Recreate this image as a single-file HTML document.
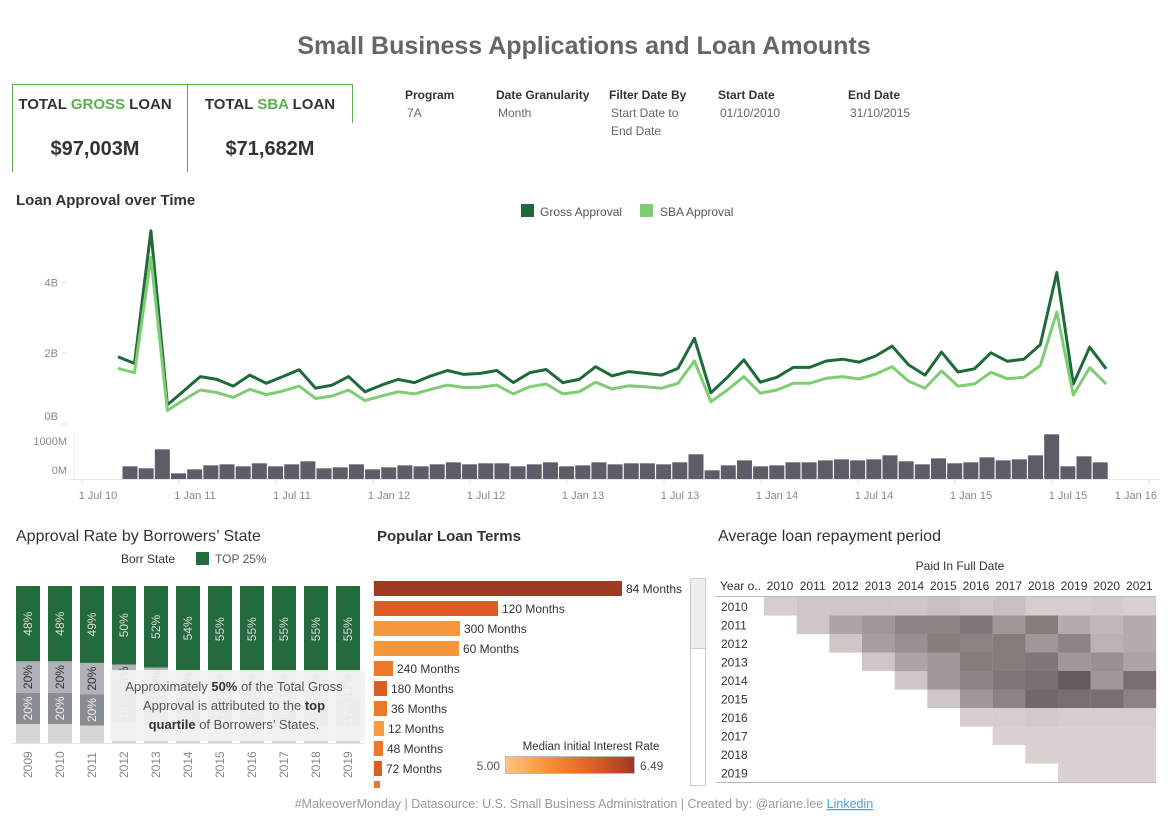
<!DOCTYPE html>
<html><head><meta charset="utf-8">
<style>
html,body{margin:0;padding:0;background:#fff;width:1168px;height:826px;overflow:hidden}
svg{display:block;font-family:"Liberation Sans",sans-serif}
</style></head>
<body>
<svg id="root" width="1168" height="826" viewBox="0 0 1168 826" xmlns="http://www.w3.org/2000/svg">
<text x="584" y="54" text-anchor="middle" font-size="25" font-weight="bold" fill="#666">Small Business Applications and Loan Amounts</text>

<g>
<path d="M12.5 172 V84.5 H187.5 V123" fill="none" stroke="#5cae4f" stroke-width="1"/>
<text x="95" y="109" text-anchor="middle" font-size="15" font-weight="bold" fill="#333">TOTAL <tspan fill="#5cae4f">GROSS</tspan> LOAN</text>
<text x="95" y="155" text-anchor="middle" font-size="20" font-weight="bold" fill="#333">$97,003M</text>
</g>
<g>
<path d="M187.5 172 V84.5 H352.5 V123" fill="none" stroke="#5cae4f" stroke-width="1"/>
<text x="270" y="109" text-anchor="middle" font-size="15" font-weight="bold" fill="#333">TOTAL <tspan fill="#5cae4f">SBA</tspan> LOAN</text>
<text x="270" y="155" text-anchor="middle" font-size="20" font-weight="bold" fill="#333">$71,682M</text>
</g>

<g font-size="12" fill="#333">
<g><text x="405" y="99" font-weight="bold">Program</text><text x="407" y="117" fill="#666">7A</text></g>
<g><text x="496" y="99" font-weight="bold">Date Granularity</text><text x="498" y="117" fill="#666">Month</text></g>
<g><text x="609" y="99" font-weight="bold">Filter Date By</text><text x="611" y="117" fill="#666">Start Date to</text><text x="611" y="135" fill="#666">End Date</text></g>
<g><text x="718" y="99" font-weight="bold">Start Date</text><text x="720" y="117" fill="#666">01/10/2010</text></g>
<g><text x="848" y="99" font-weight="bold">End Date</text><text x="850" y="117" fill="#666">31/10/2015</text></g>
</g>

<text x="16" y="205" font-size="15" font-weight="bold" fill="#333">Loan Approval over Time</text>
<g font-size="12" fill="#555">
<rect x="521" y="204" width="13" height="13" fill="#1f6a3a"/><text x="540" y="216">Gross Approval</text>
<rect x="640" y="204" width="13" height="13" fill="#7fcd72"/><text x="660" y="216">SBA Approval</text>
</g>
<g id="lineChart"></g>
<g id="countBars"></g>

<text x="16" y="541" font-size="16" fill="#333">Approval Rate by Borrowers’ State</text>
<g font-size="12" fill="#333">
<text x="121" y="563">Borr State</text>
<rect x="196" y="552" width="13" height="13" fill="#236b3d"/><text x="215" y="563" fill="#555">TOP 25%</text>
</g>
<g id="stacked"></g>

<text x="377" y="541" font-size="15" font-weight="bold" fill="#333">Popular Loan Terms</text>
<g id="terms"></g>

<text x="718" y="541" font-size="16" fill="#333">Average loan repayment period</text>
<g id="heat"></g>

<text x="584" y="808" text-anchor="middle" font-size="12.5" fill="#999">#MakeoverMonday | Datasource: U.S. Small Business Administration | Created by: @ariane.lee  <tspan fill="#4a9fd5" text-decoration="underline">Linkedin</tspan></text>
</svg>

<script>
const grossB = [1.90,1.71,5.46,0.54,0.94,1.34,1.26,1.07,1.38,1.15,1.34,1.53,1.01,1.10,1.34,0.91,1.10,1.26,1.17,1.36,1.51,1.40,1.43,1.51,1.17,1.45,1.54,1.17,1.26,1.62,1.36,1.48,1.43,1.38,1.57,2.42,0.88,1.32,1.81,1.18,1.32,1.60,1.60,1.78,1.83,1.75,1.92,2.20,1.67,1.38,2.03,1.47,1.56,2.01,1.77,1.83,2.24,4.28,1.13,2.17,1.56];
const sbaB = [1.57,1.45,4.71,0.38,0.68,0.96,0.89,0.75,0.98,0.83,0.93,1.07,0.72,0.79,0.96,0.66,0.79,0.91,0.85,0.98,1.10,1.03,1.04,1.10,0.85,1.05,1.13,0.85,0.91,1.18,0.99,1.08,1.05,1.01,1.15,1.78,0.63,0.96,1.34,0.87,0.96,1.15,1.15,1.29,1.34,1.27,1.41,1.62,1.21,1.01,1.50,1.07,1.13,1.46,1.28,1.32,1.65,3.16,0.82,1.59,1.13];
const countM = [362,305,848,162,276,390,419,362,448,362,419,505,305,333,419,276,333,390,362,419,476,419,448,448,362,419,476,362,390,476,419,448,448,419,476,705,248,390,533,362,390,476,476,533,562,533,562,676,505,419,590,448,476,619,533,562,676,1276,362,648,476];
const yTicksB = [0,2,4];
const yTickLabelsB = ["0B","2B","4B"];
const xTickLabels = ["1 Jul 10","1 Jan 11","1 Jul 11","1 Jan 12","1 Jul 12","1 Jan 13","1 Jul 13","1 Jan 14","1 Jul 14","1 Jan 15","1 Jul 15","1 Jan 16"];
const xTickHalfYears = [0,1,2,3,4,5,6,7,8,9,10,11];
const barTicksM = [0,1000];
const barTickLabels = ["0M","1000M"];

const years = ["2009","2010","2011","2012","2013","2014","2015","2016","2017","2018","2019"];
const top25 = [48,48,49,50,52,54,55,55,55,55,55];
const q2 = [20,20,20,18,18,17,17,17,17,17,17];
const q3 = [20,20,20,19,18,18,17,18,18,18,17];

const terms = ["84 Months","120 Months","300 Months","60 Months","240 Months","180 Months","36 Months","12 Months","48 Months","72 Months","96 Months"];
const termCounts = [248,124,86,85,19,13,13,10,9,8,6];
const termRates = [6.49,6.05,5.45,5.45,5.75,6.05,5.75,5.4,5.75,6.05,5.75];

const heatCols = ["2010","2011","2012","2013","2014","2015","2016","2017","2018","2019","2020","2021"];
const heatRows = ["2010","2011","2012","2013","2014","2015","2016","2017","2018","2019"];
const heatVals = [
 [1,1.5,1.5,1.5,1.5,2,1.5,2,1,1,1.2,0.8],
 [null,1.5,4,5,6.5,6.5,7.5,5,7,3.5,2.5,3.5],
 [null,null,1.5,4.5,5.5,7,6.5,7,5,6.5,3,3.5],
 [null,null,null,1.5,4,5,7,7,7.5,5,5.5,4],
 [null,null,null,null,1.5,5,6.5,7.5,8,9.5,5,8],
 [null,null,null,null,null,1.5,5,6.5,8.5,8,8,6.5],
 [null,null,null,null,null,null,1,1,1.3,1,1,1],
 [null,null,null,null,null,null,null,0.7,0.7,0.7,0.7,0.7],
 [null,null,null,null,null,null,null,null,0.7,0.7,0.7,0.7],
 [null,null,null,null,null,null,null,null,null,0.7,0.7,0.7]
];

const NS="http://www.w3.org/2000/svg";
function mk(tag, attrs, parent){const e=document.createElementNS(NS,tag);for(const k in attrs)e.setAttribute(k,attrs[k]);parent.appendChild(e);return e;}

const lc=document.getElementById('lineChart');
const xM = m => 118 + m*16.47;
const yB = v => 424 - v*35.4;
yTicksB.forEach((t,i)=>{
  const tk=mk('line',{x1:62,x2:66,y1:yB(t),y2:yB(t),stroke:'#ddd'},lc);
  
  
  const tx=mk('text',{x:58,y:yB(t)+(t===0?-4:4),'text-anchor':'end','font-size':11,fill:'#888'},lc);
  tx.textContent=yTickLabelsB[i];
  
  
});
function linePath(arr){return arr.map((v,i)=>(i?'L':'M')+xM(i).toFixed(1)+' '+yB(v).toFixed(1)).join(' ');}
const gl=mk('path',{d:linePath(grossB),fill:'none',stroke:'#1f6a3a','stroke-width':3,'stroke-linejoin':'round'},lc);


const sl=mk('path',{d:linePath(sbaB),fill:'none',stroke:'#7fcd72','stroke-width':3,'stroke-linejoin':'round'},lc);



const cb=document.getElementById('countBars');
const yM = v => 479 - v*0.035;
const xBar = i => 130 + i*16.17;
mk('line',{x1:74.5,x2:74.5,y1:432,y2:479,stroke:'#eee'},cb);
mk('line',{x1:70,x2:1160,y1:479.5,y2:479.5,stroke:'#e6e6e6'},cb);
barTicksM.forEach((t,i)=>{
  const tx=mk('text',{x:67,y:yM(t)-(t===0?5:-1),'text-anchor':'end','font-size':11,fill:'#888'},cb);
  tx.textContent=barTickLabels[i];
  
  
});
countM.forEach((v,i)=>{
  const r=mk('rect',{x:xBar(i)-7.5,y:yM(v),width:15,height:479-yM(v),fill:'#5b5e67'},cb);
  
  
});
const xDate = h => 82 + h*97;
xTickLabels.forEach((l,i)=>{
  const x=xDate(xTickHalfYears[i]);
  mk('line',{x1:x,x2:x,y1:480,y2:484,stroke:'#ddd'},cb);
  const last = i===xTickLabels.length-1;
  const tx=mk('text',{x:last?1157:x+16,y:499,'text-anchor':last?'end':'middle','font-size':11,fill:'#888'},cb);
  tx.textContent=l;
  
  
});

const st=document.getElementById('stacked');
const yP = p => 586 + p*1.57;
mk('line',{x1:12,x2:365,y1:743.5,y2:743.5,stroke:'#e6e6e6'},st);
years.forEach((y,i)=>{
  const x=16+i*32;
  const segs=[[top25[i],'#236b3d','#ddd'],[q2[i],'#b0b2b5','#333'],[q3[i],'#898d91','#eee'],[100-top25[i]-q2[i]-q3[i],'#d6d6d6','']];
  let acc=0;
  segs.forEach((s,k)=>{
    const r=mk('rect',{x:x,y:yP(acc),width:24,height:s[0]*1.57,fill:s[1]},st);
    
    
    if(s[2]){const cy=yP(acc+s[0]/2);const t=mk('text',{x:0,y:0,transform:`translate(${x+16},${cy}) rotate(-90)`,'text-anchor':'middle','font-size':12,fill:s[2]},st);t.textContent=s[0]+'%';}
    acc+=s[0];
  });
  const yl=mk('text',{x:0,y:0,transform:`translate(${x+16},778) rotate(-90)`,'font-size':12,fill:'#888'},st);
  yl.textContent=y;
  
  
});
const ov=mk('rect',{x:110,y:670,width:255,height:71,fill:'#f3f3f3','fill-opacity':0.93},st);


const an=mk('g',{'font-size':13,fill:'#555','text-anchor':'middle'},st);


an.innerHTML='<text x="234" y="691">Approximately <tspan font-weight="bold" fill="#333">50%</tspan> of the Total Gross</text><text x="234" y="710">Approval is attributed to the <tspan font-weight="bold" fill="#333">top</tspan></text><text x="234" y="729"><tspan font-weight="bold" fill="#333">quartile</tspan> of Borrowers’ States.</text>';

const tg=document.getElementById('terms');
function rateColor(r){
  const t=Math.max(0,Math.min(1,(r-5)/1.49));
  const stops=[[253,196,126],[243,145,51],[226,98,36],[158,58,34]];
  const p=t*3,i=Math.min(2,Math.floor(p)),f=p-i;
  const c=stops[i].map((v,k)=>Math.round(v+(stops[i+1][k]-v)*f));
  return `rgb(${c[0]},${c[1]},${c[2]})`;
}
mk('line',{x1:373.5,x2:373.5,y1:575,y2:790,stroke:'#eee'},tg);
terms.forEach((t,i)=>{
  const y=581+i*20;
  const w=termCounts[i];
  const h=Math.min(15,788-y);
  const r=mk('rect',{x:374,y:y,width:w,height:h,fill:rateColor(termRates[i])},tg);
  
  
  if(y<775){const tx=mk('text',{x:374+w+4,y:y+12,'font-size':12,fill:'#333'},tg);tx.textContent=t;
  
  }
});
const sc=mk('g',{},tg);


mk('rect',{x:690.5,y:578.5,width:15,height:207,fill:'#fff',stroke:'#ccc'},sc);
mk('rect',{x:690.5,y:578.5,width:15,height:70,fill:'#eee',stroke:'#ccc'},sc);
const lg=mk('g',{},tg);


lg.innerHTML='<defs><linearGradient id="rg"><stop offset="0" stop-color="#fdc47e"/><stop offset="0.35" stop-color="#f39133"/><stop offset="0.65" stop-color="#e2622a"/><stop offset="1" stop-color="#9e3a22"/></linearGradient></defs><text x="591" y="750" text-anchor="middle" font-size="11.5" fill="#333">Median Initial Interest Rate</text><rect x="505.5" y="756.5" width="129" height="17" fill="url(#rg)" stroke="#bbb"/><text x="500" y="770" text-anchor="end" font-size="12" fill="#555">5.00</text><text x="640" y="770" font-size="12" fill="#555">6.49</text>';

const hg=document.getElementById('heat');
const hx=i=>764+i*32.67, hy=j=>597+j*18.5;
function heatColor(v){const a=[226,219,217],b=[94,84,83],t=v/10;return `rgb(${a.map((x,k)=>Math.round(x+(b[k]-x)*t)).join(',')})`;}
const ht=mk('text',{x:960,y:570,'text-anchor':'middle','font-size':12,fill:'#333'},hg);ht.textContent='Paid In Full Date';
const hy0=mk('text',{x:720,y:590,'font-size':12,fill:'#333'},hg);hy0.textContent='Year o..';
heatCols.forEach((c,i)=>{const t=mk('text',{x:hx(i)+16,y:590,'text-anchor':'middle','font-size':12,fill:'#333'},hg);t.textContent=c;

});
heatRows.forEach((r,j)=>{
  const t=mk('text',{x:721,y:hy(j)+14,'font-size':12,fill:'#333'},hg);t.textContent=r;
  
  
  heatVals[j].forEach((v,i)=>{
    if(v===null)return;
    const c=mk('rect',{x:hx(i),y:hy(j),width:32.8,height:18.6,fill:heatColor(v)},hg);
    
    
  });
});
mk('line',{x1:716,x2:1156,y1:596.5,y2:596.5,stroke:'#bbb'},hg);
mk('line',{x1:716,x2:1156,y1:782.5,y2:782.5,stroke:'#bbb'},hg);
</script>
</body></html>
